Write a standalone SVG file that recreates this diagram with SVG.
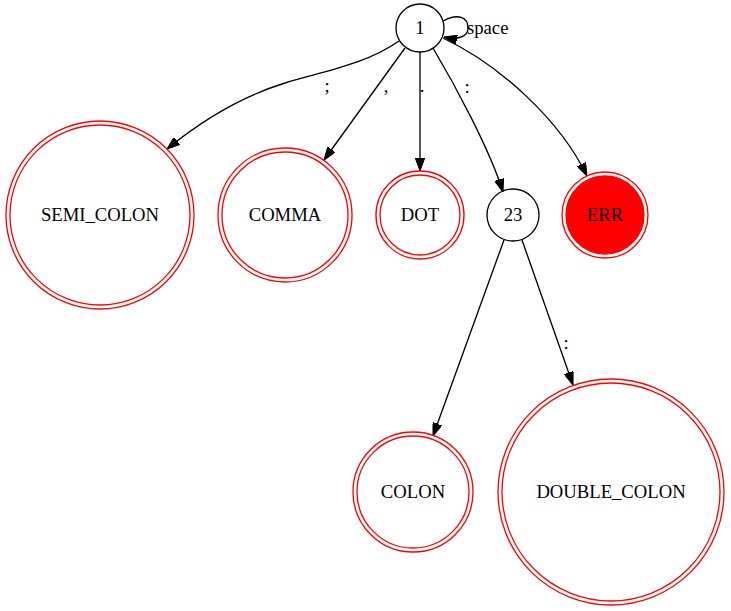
<svg xmlns="http://www.w3.org/2000/svg" width="731" height="611" viewBox="0 0 731 611">
<style>
text{font-family:"Liberation Serif","Times New Roman",serif;font-size:18.67px;fill:#000}
.n{text-anchor:middle}
.s{fill:none;stroke:#000;stroke-width:1.33}
.f{fill:none;stroke:#ff0000;stroke-width:1.33}
.e{fill:none;stroke:#000;stroke-width:1.33;marker-end:url(#a)}
</style>
<defs>
<marker id="a" viewBox="0 0 13 9.4" refX="13" refY="4.7" markerWidth="13" markerHeight="9.4" markerUnits="userSpaceOnUse" orient="auto">
<path d="M0,0 L13,4.7 L0,9.4 z" fill="#000" stroke="#000"/>
</marker>
</defs>
<rect width="731" height="611" fill="#fff"/>
<g id="edges">
<path class="e" d="M443,21 C458,13 468,17 468,28 C468,37 458,40 444,37"/>
<text x="467" y="34">space</text>
<path class="e" d="M399,41 C365,65 320,72 285,83 C240,97 200,122 167,149"/>
<text x="327" y="92" class="n">;</text>
<path class="e" d="M405,48 L324,160"/>
<text x="386" y="92" class="n">,</text>
<path class="e" d="M420,52 L420,171"/>
<text x="422" y="92" class="n">.</text>
<path class="e" d="M433,48 C455,85 490,150 503,192"/>
<text x="467" y="93" class="n">:</text>
<path class="e" d="M443,38 C500,65 560,120 587,176"/>
<path class="e" d="M504,240 L433,436"/>
<path class="e" d="M522,240 L573,385"/>
<text x="566" y="349" class="n">:</text>
</g>
<g id="n1"><circle class="s" cx="420" cy="28" r="24"/><text x="420" y="34" class="n">1</text></g>
<g id="SEMI_COLON"><circle class="f" cx="100" cy="215" r="94"/><circle class="f" cx="100" cy="215" r="90"/><text x="100" y="221" class="n">SEMI_COLON</text></g>
<g id="COMMA"><circle class="f" cx="285" cy="215" r="67"/><circle class="f" cx="285" cy="215" r="63"/><text x="285" y="221" class="n">COMMA</text></g>
<g id="DOT"><circle class="f" cx="420" cy="215" r="44"/><circle class="f" cx="420" cy="215" r="40"/><text x="420" y="221" class="n">DOT</text></g>
<g id="n23"><circle class="s" cx="513" cy="215" r="26"/><text x="513" y="221" class="n">23</text></g>
<g id="ERR"><circle class="f" cx="605" cy="215" r="43"/><circle cx="605" cy="215" r="39" fill="#ff0000" stroke="#ff0000" stroke-width="1.33"/><text x="605" y="221" class="n">ERR</text></g>
<g id="COLON"><circle class="f" cx="413" cy="492" r="60"/><circle class="f" cx="413" cy="492" r="56"/><text x="413" y="498" class="n">COLON</text></g>
<g id="DOUBLE_COLON"><circle class="f" cx="611" cy="492" r="113"/><circle class="f" cx="611" cy="492" r="109"/><text x="611" y="498" class="n">DOUBLE_COLON</text></g>
</svg>
